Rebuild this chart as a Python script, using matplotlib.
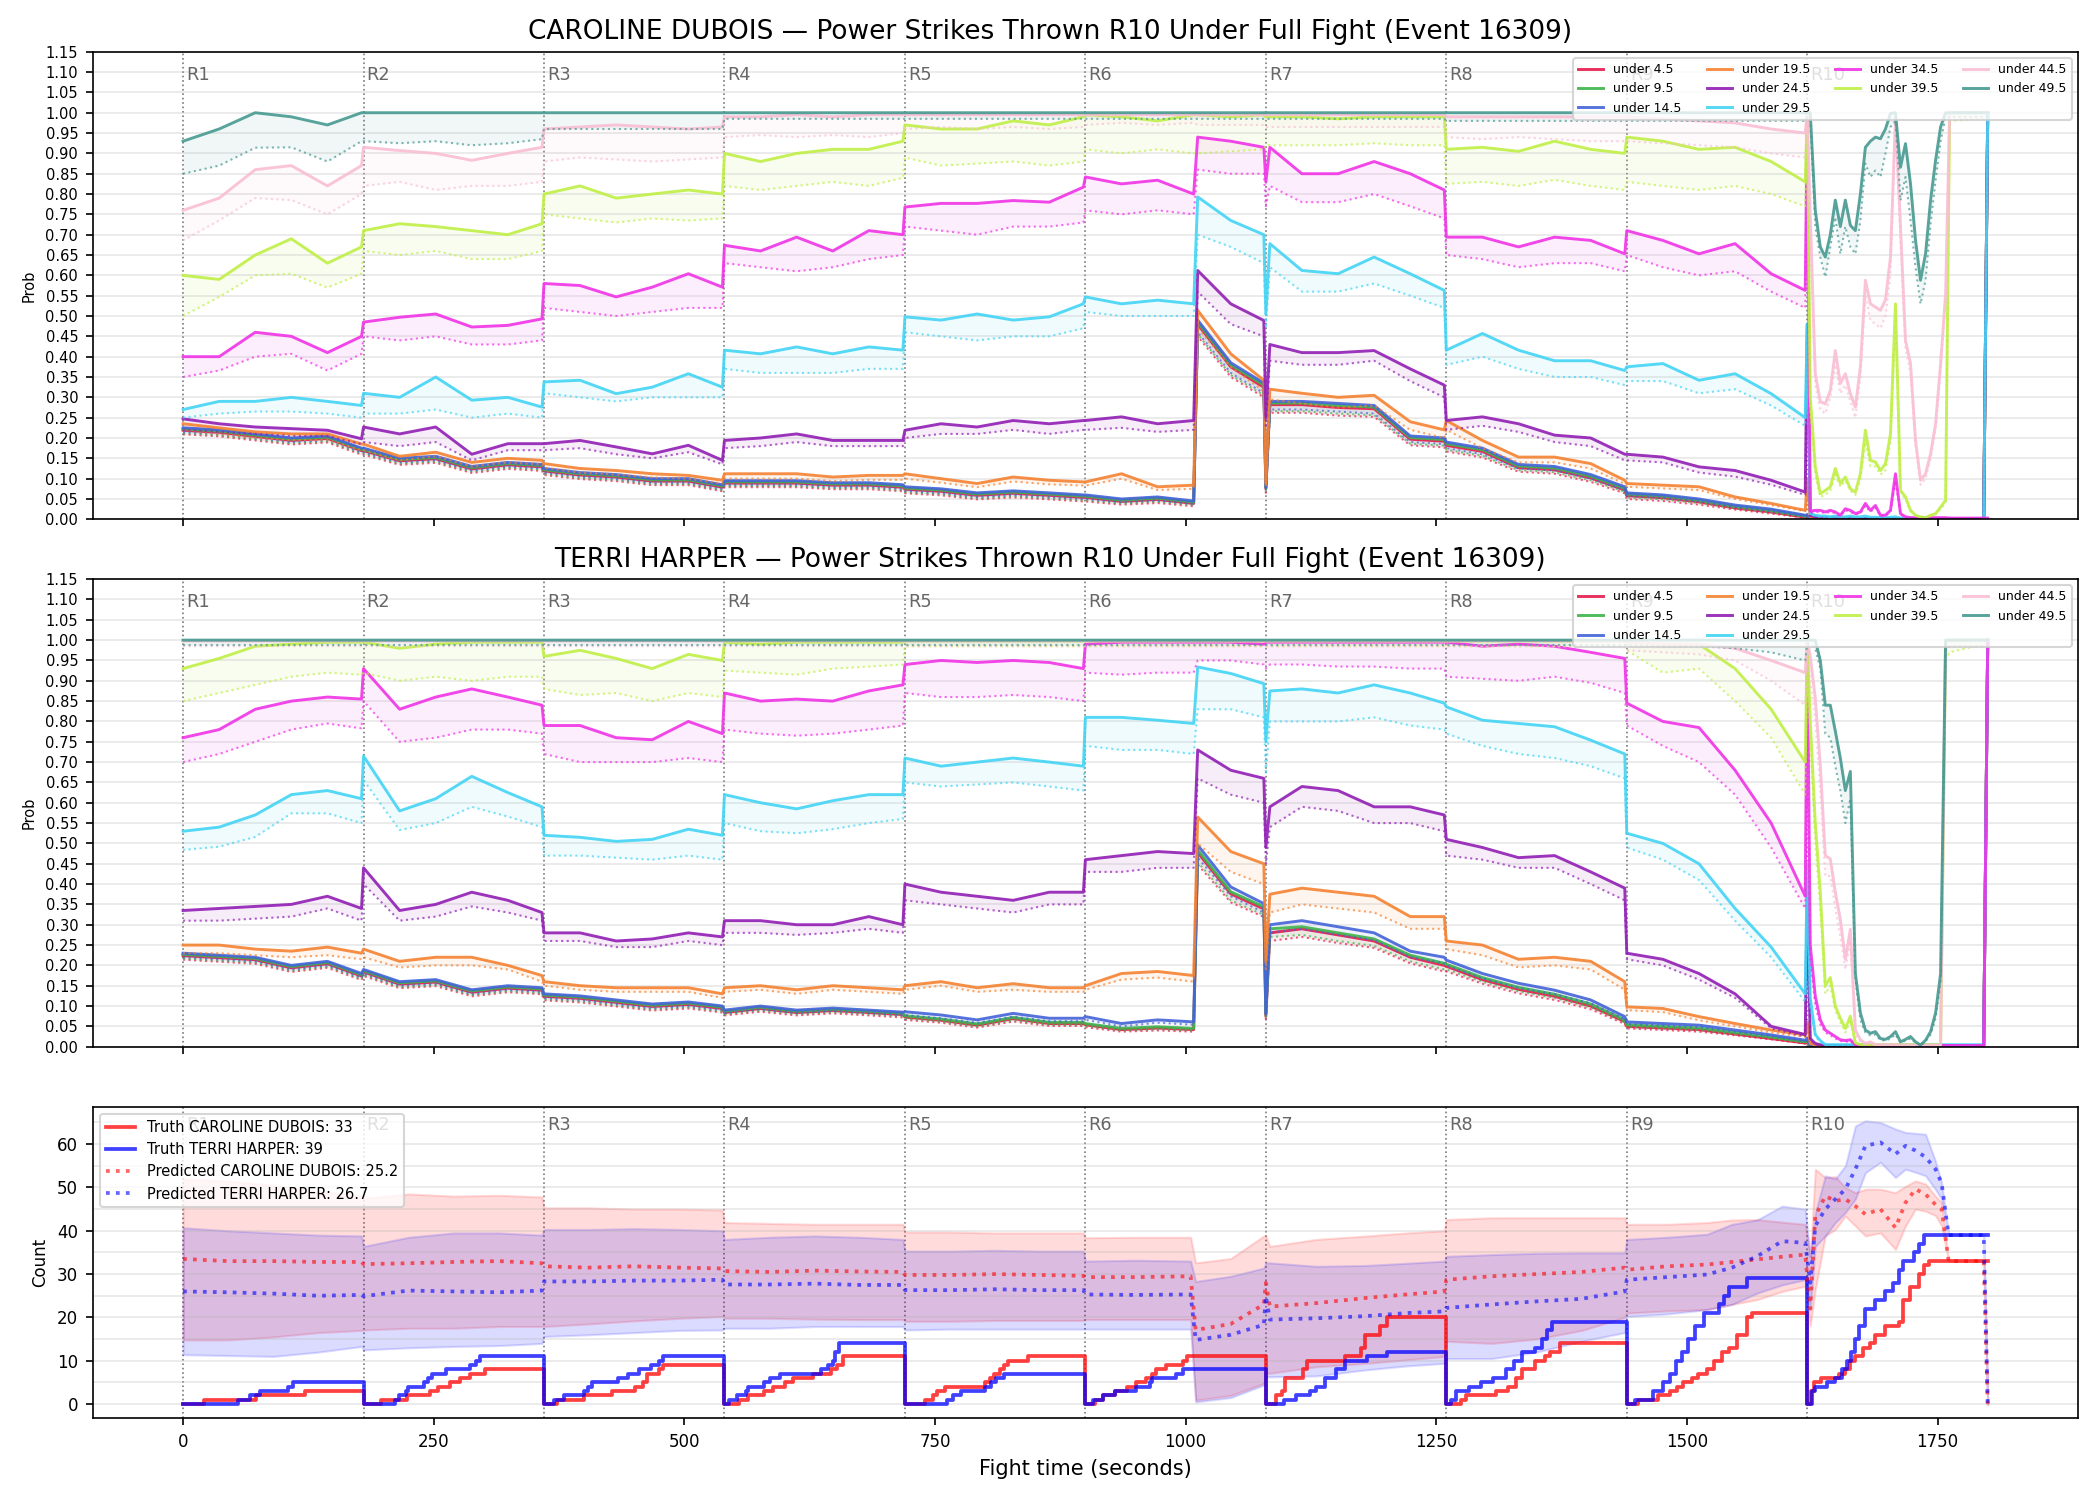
import numpy as np
import matplotlib
matplotlib.use("Agg")
import matplotlib.pyplot as plt
from matplotlib.ticker import FormatStrFormatter, MultipleLocator

FIGHTERS = ['CAROLINE DUBOIS', 'TERRI HARPER']
TITLE_TAIL = 'Power Strikes Thrown R10 Under Full Fight (Event 16309)'
ROUND_STARTS = [0, 180, 360, 540, 720, 900, 1080, 1260, 1440, 1620]
THRESHOLDS = ['under 4.5', 'under 9.5', 'under 14.5', 'under 19.5', 'under 24.5',
              'under 29.5', 'under 34.5', 'under 39.5', 'under 44.5', 'under 49.5']
COLORS = ['#e6194B', '#3cb44b', '#4363d8', '#f58231', '#911eb4',
          '#42d4f4', '#f032e6', '#bfef45', '#fabed4', '#469990']

# sample times (s) for the threshold panels
T = [0, 36, 72, 108, 144, 178,
     180, 216, 252, 288, 324, 358,
     360, 396, 432, 468, 504, 538,
     540, 576, 612, 648, 684, 718,
     720, 756, 792, 828, 864, 898,
     900, 936, 972, 1008, 1012, 1045, 1078,
     1080, 1084, 1116, 1152, 1188, 1224, 1258,
     1260, 1296, 1332, 1368, 1404, 1438,
     1440, 1476, 1512, 1548, 1584, 1618,
     1620, 1623, 1628, 1633, 1638, 1643, 1648, 1653, 1658, 1663, 1668, 1673, 1678,
     1683, 1688, 1693, 1698, 1703, 1708, 1713, 1718, 1723, 1728, 1733, 1738, 1743,
     1748, 1753, 1758, 1762, 1796, 1800]

# ---- CAROLINE DUBOIS: probability (%) solid line and lower dotted line ----
d_u4 = [21.9, 21.4, 20.4, 19.4, 19.9, 16.9,
        16.9, 14.4, 14.9, 12.4, 13.4, 12.9,
        11.9, 10.9, 10.4, 9.4, 9.4, 7.9,
        8.9, 8.9, 8.9, 8.4, 8.4, 7.9,
        7.4, 6.9, 5.9, 6.4, 5.9, 5.4,
        5.4, 4.4, 4.9, 3.9, 48, 37.5, 32.5,
        7.5, 28.2, 28.2, 27.5, 27.2, 19.7, 19.2,
        18.2, 16.7, 12.7, 12.2, 10.2, 7.2,
        5.8, 5.3, 4.3, 2.8, 1.8, 0.5,
        0.5, 0.1] + [0.05] * 29 + [100]
d_u4_lo = [20.9, 20.4, 19.4, 18.4, 18.9, 15.9,
           15.9, 13.4, 13.9, 11.4, 12.4, 11.9,
           10.9, 9.9, 9.4, 8.4, 8.4, 6.9,
           7.9, 7.9, 7.9, 7.4, 7.4, 6.9,
           6.4, 5.9, 4.9, 5.4, 4.9, 4.4,
           4.4, 3.6, 4.0, 3.2, 45, 35, 30,
           6.5, 26.2, 26.2, 25.5, 25.2, 18.2, 17.7,
           16.7, 15.2, 11.7, 11.2, 9.2, 6.4,
           5.0, 4.5, 3.6, 2.4, 1.4, 0.4,
           0.4, 0.05] + [0.02] * 29 + [100]
d_u9 = [22.2, 21.7, 20.7, 19.7, 20.2, 17.2,
        17.2, 14.7, 15.2, 12.7, 13.7, 13.2,
        12.2, 11.2, 10.7, 9.7, 9.7, 8.2,
        9.2, 9.2, 9.2, 8.7, 8.7, 8.2,
        7.7, 7.2, 6.2, 6.7, 6.2, 5.7,
        5.7, 4.7, 5.2, 4.2, 48.5, 38, 33,
        7.8, 28.6, 28.6, 28, 27.6, 20.1, 19.6,
        18.6, 17.1, 13.1, 12.6, 10.6, 7.6,
        6.2, 5.7, 4.7, 3.2, 2.2, 0.8,
        0.8, 0.2] + [0.1] * 29 + [100]
d_u9_lo = [21.2, 20.7, 19.7, 18.7, 19.2, 16.2,
           16.2, 13.7, 14.2, 11.7, 12.7, 12.2,
           11.2, 10.2, 9.7, 8.7, 8.7, 7.2,
           8.2, 8.2, 8.2, 7.7, 7.7, 7.2,
           6.7, 6.2, 5.2, 5.7, 5.2, 4.7,
           4.7, 3.9, 4.3, 3.5, 45.5, 35.5, 30.5,
           6.8, 26.6, 26.6, 26, 25.6, 18.6, 18.1,
           17.1, 15.6, 12.1, 11.6, 9.6, 6.8,
           5.4, 4.9, 4.0, 2.7, 1.7, 0.6,
           0.6, 0.1] + [0.05] * 29 + [100]
d_u14 = [22.5, 22, 21, 20, 20.5, 17.5,
         17.5, 15, 15.5, 13, 14, 13.5,
         12.5, 11.5, 11, 10, 10, 8.5,
         9.5, 9.5, 9.5, 9, 9, 8.5,
         8, 7.5, 6.5, 7, 6.5, 6,
         6, 5, 5.5, 4.5, 49, 38.5, 33.5,
         8, 29, 29, 28.5, 28, 20.5, 20,
         19, 17.5, 13.5, 13, 11, 8,
         6.5, 6, 5, 3.5, 2.5, 1,
         1, 0.3] + [0.2] * 29 + [100]
d_u14_lo = [21.5, 21, 20, 19, 19.5, 16.5,
            16.5, 14, 14.5, 12, 13, 12.5,
            11.5, 10.5, 10, 9, 9, 7.5,
            8.5, 8.5, 8.5, 8, 8, 7.5,
            7, 6.5, 5.5, 6, 5.5, 5,
            5, 4.2, 4.6, 3.8, 46, 36, 31,
            7, 27, 27, 26.5, 26, 19, 18.5,
            17.5, 16, 12.5, 12, 10, 7.2,
            5.8, 5.3, 4.4, 3, 2, 0.8,
            0.8, 0.2] + [0.1] * 29 + [100]
d_u19 = [23.5, 22.5, 21.5, 21, 21, 18.5,
         18.5, 15.5, 16.5, 14, 15, 14.5,
         13.7, 12.5, 12, 11.2, 10.8, 9.6,
         11.2, 11.2, 11.2, 10.4, 10.8, 10.8,
         11.2, 10, 8.8, 10.4, 9.6, 9.2,
         9.2, 11.2, 8, 8.4, 51.4, 40.7, 34.2,
         9, 32, 31, 30, 30.5, 24, 22,
         24.3, 19.4, 15.3, 15.3, 13.7, 9.6,
         8.8, 8.4, 8, 5.5, 3.9, 2.2,
         10, 0.6, 0.4, 0.3, 0.3] + [0.2] * 26 + [100]
d_u19_lo = [22, 21, 20, 19.5, 19.5, 17,
            17, 14.5, 15.5, 13, 14, 13.5,
            12.7, 11.5, 11, 10.3, 10, 8.8,
            10, 10, 10, 9.4, 9.7, 9.7,
            10, 9, 7.9, 9.3, 8.6, 8.3,
            8.3, 10, 7.2, 7.5, 47, 37.5, 31.5,
            8, 29.5, 28.5, 27.5, 28, 22, 20,
            22, 17.5, 14, 14, 12.5, 8.7,
            8, 7.6, 7.2, 5, 3.5, 2,
            9, 0.5, 0.3, 0.2, 0.2] + [0.1] * 26 + [100]
d_u24 = [24.7, 23.5, 22.7, 22.3, 21.9, 19.8,
         22.7, 21, 22.7, 16, 18.6, 18.6,
         18.6, 19.4, 17.8, 16.1, 18.2, 14.5,
         19.4, 20, 21, 19.4, 19.4, 19.4,
         21.9, 23.5, 22.7, 24.3, 23.5, 24.3,
         24.3, 25.2, 23.5, 24.3, 61.2, 53, 48.9,
         25, 43, 41, 41, 41.5, 37, 33,
         24.3, 25.2, 23.5, 20.7, 20, 16,
         16, 15.3, 12.9, 12, 9.6, 6.7,
         48, 1, 0.6, 0.5, 0.5, 0.4, 0.4, 0.4, 0.3, 0.3] + [0.2] * 21 + [100]
d_u24_lo = [22, 21.5, 21, 20.5, 20.5, 18.5,
            19, 18, 19, 14.5, 17, 17,
            17, 17.5, 16, 15, 16.5, 13.5,
            17.5, 18, 19, 18, 18, 18,
            20, 21, 21, 22, 21, 22,
            22, 22.5, 21.5, 22, 56, 48, 45,
            23, 39, 38, 38, 39, 34, 30,
            22, 23, 21.5, 19, 18, 14.5,
            14.5, 14, 11.5, 10.5, 8.5, 6,
            45, 0.8, 0.5, 0.4, 0.4, 0.3, 0.3, 0.3, 0.2, 0.2] + [0.1] * 21 + [100]
d_u29 = [27, 29, 29, 30, 29, 28,
         31, 30, 35, 29.3, 30, 27.6,
         33.8, 34.2, 30.9, 32.5, 35.8, 32.5,
         41.6, 40.7, 42.4, 40.7, 42.4, 41.6,
         49.8, 49, 50.5, 49, 49.8, 53,
         54.7, 53, 53.9, 53, 79.3, 73.5, 70,
         50.6, 67.8, 61.2, 60.4, 64.5, 60.4, 56.3,
         41.6, 45.7, 41.6, 39, 39, 36.6,
         37.5, 38.3, 34.2, 35.8, 30.9, 25,
         48, 1.4, 1, 0.8, 0.8, 0.6, 0.8, 0.6, 0.6, 0.8,
         0.6, 0.6, 0.8, 0.5, 0.5, 0.4, 0.4, 0.5, 0.6] + [0.3] * 3 + [0.2] * 9 + [100]
d_u29_lo = [25, 26, 26.5, 26.5, 26, 25,
            26, 26, 27, 25, 26, 25,
            31, 30, 29, 30, 30, 30,
            37, 36, 36, 36, 37, 37,
            46, 45, 44, 45, 45, 47,
            51, 50, 50, 50, 70, 67, 63,
            47, 62, 56, 56, 58, 55, 52,
            38, 40, 37, 35, 35, 33,
            34, 34, 31, 32, 28, 23,
            44, 1.2, 0.8, 0.6, 0.6, 0.5, 0.6, 0.5, 0.5, 0.6,
            0.5, 0.5, 0.6, 0.4, 0.4, 0.3, 0.3, 0.4, 0.5] + [0.2] * 3 + [0.1] * 9 + [100]
d_u34 = [40, 40, 46, 45, 41, 45,
         48.5, 49.7, 50.5, 47.3, 47.7, 49.3,
         58, 57.5, 54.7, 57.1, 60.4, 57.1,
         67.4, 66, 69.4, 66, 71, 70,
         76.8, 77.7, 77.7, 78.4, 78, 81.7,
         84.2, 82.5, 83.4, 80, 94, 93, 91.5,
         83, 91.5, 85, 85, 88, 85, 81,
         69.4, 69.4, 67, 69.4, 68.6, 65.3,
         71, 68.6, 65.3, 67.8, 60.4, 56.3,
         100, 2, 2.2, 2.2, 1.8, 2.2, 1.8, 1, 2.6, 2.2,
         1.4, 1.8, 3.9, 2.2, 3.4, 1, 1, 2.2, 11.2, 1.4,
         0.6] + [0.4] * 8 + [0.3] * 3
d_u34_lo = [35, 36.6, 40, 40.7, 36.6, 40.7,
            45, 44, 45, 43, 43, 44,
            52, 51, 50, 51, 52, 52,
            63, 62, 61, 62, 64, 65,
            72, 71, 70, 72, 72, 73,
            76, 75, 76, 75, 86, 85, 85,
            77, 82, 78, 78, 80, 77, 74,
            65, 64, 62, 63, 63, 61,
            65, 62, 60, 61, 56, 52,
            98, 1.5, 1.8, 1.8, 1.5, 1.8, 1.5, 0.8, 2.2, 1.8,
            1.2, 1.5, 3.3, 1.8, 2.9, 0.8, 0.8, 1.8, 9.5, 1.2,
            0.5] + [0.3] * 8 + [0.2] * 3
d_u39 = [60, 59, 65, 69, 63, 67,
         71, 72.7, 72, 71, 70, 72.7,
         80, 82, 79, 80, 81, 80,
         90, 88, 90, 91, 91, 93,
         97, 96, 96, 98, 97, 99,
         99.5, 99, 98, 99.5, 99.5, 99, 99.5,
         99, 99, 99, 98.5, 99, 99, 99,
         91, 91.5, 90.5, 93, 91, 90,
         94, 93, 91, 91.5, 88, 83,
         100, 30, 12.9, 6.3, 7.1, 8, 12.5, 8.8, 10.4, 7.5,
         6.7, 11.2, 21.9, 14.5, 14.1, 12, 13.7, 21, 53, 7.1,
         5.5, 2.2, 1, 0.6, 0.4, 1, 1.4, 3, 4.7, 100, 100, 100]
d_u39_lo = [50, 54.7, 60, 60.4, 57, 60.4,
            66, 65, 66, 64, 64, 66,
            75, 74, 73, 74, 73.5, 74,
            82, 81, 82, 83, 82, 84,
            89, 87, 87.5, 88, 87, 88,
            91, 90, 91, 90, 90, 90.5, 91,
            92, 92, 92, 92, 92.5, 92, 92,
            82.5, 83, 82, 83.5, 82, 81,
            83, 82, 81, 82, 80, 77,
            98, 27, 11, 5.5, 6, 7, 11, 8, 9.5, 7,
            6, 10, 19, 13, 13, 11, 12, 19, 50, 6.5,
            5, 2, 0.8, 0.5, 0.3, 0.8, 1.2, 2.5, 4, 98, 98.5, 98.5]
d_u44 = [76, 79, 86, 87, 82, 87,
         91.5, 90.7, 90, 88.3, 90, 91.5,
         96, 96.5, 97, 96.5, 96, 96.5,
         99, 99, 99.5, 99, 99.5, 99.5] + [99.5] * 20 + [
         99, 99, 99, 99, 99, 99,
         99, 98.5, 98, 97.5, 96, 95,
         100, 75, 35.8, 29, 28.4, 31.7, 41.5, 33.4, 35.8, 30.9,
         27.6, 37.5, 58.8, 53, 52.2, 51.4, 54, 64.5, 99, 72,
         44, 38.3, 19.4, 9.6, 11.2, 16.1, 23.5, 38.3, 55.5, 100, 100, 100]
d_u44_lo = [68.6, 73.5, 79, 78.5, 75, 80,
            82, 83, 81, 82, 82, 83,
            88, 89, 88.5, 88, 88.5, 89,
            94, 94.5, 94, 94.5, 94, 95,
            96, 96.5, 96, 96.5, 96, 96.5,
            97, 97.5, 97, 97.5, 97, 97, 97] + [96.5] * 7 + [
            94, 93.5, 94, 93.5, 93, 93,
            93, 92.5, 92, 91.5, 90, 89,
            98, 70, 33, 27, 26, 30, 38, 31, 33, 29,
            25, 35, 55, 49, 48, 47, 50, 60, 97, 68,
            42, 36, 18, 8.5, 10, 15, 22, 37, 54, 98.5, 98.5, 98.5]
d_u49 = [93, 96, 100, 99, 97, 100] + [100] * 50 + [
         100, 100, 76, 67, 64.5, 70, 78.5, 72, 78.5, 72.3,
         71, 80, 91.5, 93, 94, 93.6, 96, 99.8, 100, 86.6,
         92.4, 82.5, 68.6, 58.8, 65.3, 78.5, 88.3, 96.5, 100, 100, 100, 100]
d_u49_lo = [85, 87, 91.4, 91.5, 88, 93,
            93, 92.5, 93, 92, 92.5, 93.5] + [96] * 6 + [98.5] * 26 + [98] * 12 + [
            99, 98, 72, 64.5, 59.6, 67, 74.3, 65.3, 72, 67,
            65.3, 73.5, 87.5, 84.2, 85.8, 84.2, 90, 96.5, 98, 78.4,
            84.2, 73.5, 62, 53, 58.8, 72.7, 83.4, 93, 99, 99, 99, 99]

# ---- TERRI HARPER ----
h_u4 = [22.4, 21.9, 21.4, 19.4, 20.4, 17.4,
        18.4, 15.4, 15.9, 13.4, 14.4, 13.9,
        12.4, 11.9, 10.9, 9.9, 10.4, 9.4,
        8.4, 9.4, 8.4, 8.9, 8.4, 7.9,
        7.3, 6.5, 5.3, 6.9, 5.7, 5.7,
        5.4, 4.2, 4.6, 4.2, 47.8, 37.6, 33.9,
        7.5, 28, 29, 27.5, 26, 22, 20,
        19.8, 16.5, 14.1, 12.4, 10, 6.2,
        5, 4.6, 4.2, 3.1, 2, 0.9,
        1, 0.1] + [0.03] * 29 + [100]
h_u4_lo = [21.4, 20.9, 20.4, 18.4, 19.4, 16.4,
           17.4, 14.4, 14.9, 12.4, 13.4, 12.9,
           11.4, 10.9, 9.9, 8.9, 9.4, 8.4,
           7.7, 8.6, 7.7, 8.2, 7.7, 7.2,
           6.6, 5.9, 4.7, 6.2, 5.1, 5.1,
           4.8, 3.7, 4, 3.7, 44.8, 35.5, 31.9,
           6.8, 26, 27, 25.5, 24.3, 20.5, 18.5,
           18.5, 15.5, 13.1, 11.5, 9.2, 5.6,
           4.5, 4.1, 3.7, 2.8, 1.8, 0.8,
           0.9, 0.05] + [0.02] * 29 + [100]
h_u9 = [22.7, 22.2, 21.7, 19.7, 20.7, 17.7,
        18.7, 15.7, 16.2, 13.7, 14.7, 14.2,
        12.7, 12.2, 11.2, 10.2, 10.7, 9.7,
        8.7, 9.7, 8.7, 9.2, 8.7, 8.2,
        7.6, 6.8, 5.6, 7.2, 6, 6,
        5.7, 4.5, 4.9, 4.5, 48.4, 38.1, 34.4,
        8, 29, 29.5, 28, 26.5, 22.5, 20.5,
        20.3, 17, 14.6, 12.9, 10.5, 6.6,
        5.4, 5, 4.6, 3.5, 2.4, 1.2,
        1.5, 0.2] + [0.05] * 29 + [100]
h_u9_lo = [21.7, 21.2, 20.7, 18.7, 19.7, 16.7,
           17.7, 14.7, 15.2, 12.7, 13.7, 13.2,
           11.7, 11.2, 10.2, 9.2, 9.7, 8.7,
           8, 8.9, 8, 8.5, 8, 7.5,
           6.9, 6.2, 5, 6.5, 5.4, 5.4,
           5.1, 4, 4.3, 4, 45.4, 36, 32.4,
           7.3, 27, 27.5, 26, 24.8, 21, 19,
           19, 16, 13.6, 12, 9.7, 6,
           4.9, 4.5, 4.1, 3.1, 2.1, 1,
           1.3, 0.1] + [0.03] * 29 + [100]
h_u14 = [23, 22.5, 22, 20, 21, 18,
         19, 16, 16.5, 14, 15, 14.5,
         13, 12.5, 11.5, 10.5, 11, 10,
         9, 10, 9, 9.5, 9, 8.5,
         8.6, 7.8, 6.6, 8.2, 7, 7,
         7.4, 5.7, 6.6, 6.1, 49.6, 39.3, 35.2,
         8.2, 30, 31, 29.5, 28, 23.5, 22,
         21.3, 18, 15.6, 13.9, 11.5, 7.4,
         6.1, 5.7, 5.3, 4.1, 2.9, 1.6,
         2, 0.3] + [0.1] * 29 + [100]
h_u14_lo = [22, 21.5, 21, 19, 20, 17,
            18, 15, 15.5, 13, 14, 13.5,
            12, 11.5, 10.5, 9.5, 10, 9,
            8.3, 9.2, 8.3, 8.8, 8.3, 7.8,
            7.8, 7, 5.9, 7.4, 6.3, 6.3,
            6.6, 5, 5.9, 5.4, 46.5, 37, 33,
            7.5, 28, 29, 27.5, 26.2, 22, 20.5,
            20, 16.8, 14.5, 12.9, 10.7, 6.8,
            5.6, 5.2, 4.8, 3.7, 2.6, 1.4,
            1.8, 0.2] + [0.05] * 29 + [100]
h_u19 = [25, 25, 24, 23.5, 24.5, 23,
         24, 21, 22, 22, 20, 17.5,
         16, 15, 14.5, 14.5, 14.5, 13,
         14.5, 15, 14, 15, 14.5, 14,
         15, 16, 14.5, 15.5, 14.5, 14.5,
         15, 18, 18.5, 17.5, 56.5, 48, 45,
         21, 37.5, 39, 38, 37, 32, 32,
         26, 25, 21.5, 22, 21, 16,
         9.8, 9.4, 7.4, 5.7, 4.1, 2.9,
         6, 0.8, 0.4] + [0.2] * 28 + [100]
h_u19_lo = [23, 23, 22.5, 22, 22.5, 21.5,
            22, 19.5, 20, 20, 19, 16,
            15, 14, 13.5, 13.5, 13.5, 12,
            13.5, 14, 13, 14, 13.5, 13,
            14, 15, 13.5, 14, 13.5, 13.5,
            14, 16.5, 17, 16, 50, 43, 40,
            19, 33, 35, 34, 33, 29, 29,
            24, 22.5, 19.5, 20, 19, 14,
            9, 8.5, 6.5, 5, 3.5, 2.4,
            5, 0.6, 0.3] + [0.1] * 28 + [100]
h_u24 = [33.5, 34, 34.5, 35, 37, 34,
         44, 33.5, 35, 38, 36, 33,
         28, 28, 26, 26.5, 28, 27,
         31, 31, 30, 30, 32, 30,
         40, 38, 37, 36, 38, 38,
         46, 47, 48, 47.5, 73, 68, 66,
         49, 59, 64, 63, 59, 59, 57,
         51, 49, 46.5, 47, 43, 39,
         23, 21.5, 18, 13, 5, 3,
         38, 2, 0.8, 0.5] + [0.3] * 27 + [100]
h_u24_lo = [31, 31, 31.5, 32, 34, 31,
            40, 31, 32, 34.5, 33, 31,
            26, 26, 24.5, 24.5, 26, 25,
            28, 28, 27.5, 28, 29, 28,
            36, 35, 34, 33, 35, 35,
            43, 43, 44, 44, 66, 62, 60,
            45, 54, 59, 58, 55, 55, 53,
            47, 46, 44, 44, 40, 36,
            21.5, 20, 16.5, 12, 4.5, 2.5,
            35, 1.5, 0.6, 0.4] + [0.2] * 27 + [100]
h_u29 = [53, 54, 57, 62, 63, 61,
         71.5, 58, 61, 66.5, 62.5, 59,
         52, 51.5, 50.5, 51, 53.5, 52,
         62, 60, 58.5, 60.5, 62, 62,
         71, 69, 70, 71, 70, 69,
         81, 81, 80.3, 79.5, 93.4, 91.8, 89.3,
         75, 87.5, 88, 87, 89, 87, 84.5,
         83.6, 80.3, 79.5, 78.7, 75.4, 72,
         52.5, 50, 45, 34, 24.5, 13,
         45, 12, 3, 1.5] + [0.5] * 27 + [100]
h_u29_lo = [48.4, 49.2, 51.6, 57.4, 57.4, 55,
            65.6, 53.3, 55, 59, 56.6, 54,
            47, 47, 46.5, 46, 47, 46,
            55, 53, 52.5, 53.5, 55, 56,
            65, 64, 64.5, 65, 64, 63,
            74, 73, 73, 72, 83, 83, 81,
            67, 80, 80, 80, 81, 79, 78,
            77, 74, 72, 71, 69, 66,
            49, 46, 41, 31, 22, 11,
            42, 10, 2.5, 1.2] + [0.3] * 27 + [100]
h_u34 = [76, 78, 83, 85, 86, 85.5,
         93, 83, 86, 88, 86, 84,
         79, 79, 76, 75.5, 80, 77,
         87, 85, 85.5, 85, 87.5, 89,
         94, 95, 94.5, 95, 94.5, 93,
         99, 99.5, 99.5, 99.5, 99.5, 99.5, 99] + [99.5] * 7 + [
         99.5, 98.5, 99, 98.5, 97, 95.5,
         84.5, 80, 78.5, 68, 55, 37,
         100, 25, 12.4, 6.6, 4.1, 3.3, 2.5, 1.7, 1.5, 1.7, 0.4] + [0.3] * 20 + [100]
h_u34_lo = [70, 72, 75, 78, 79.5, 78.3,
            85, 75, 76, 78, 78, 77,
            72, 70, 70, 70, 71, 70,
            78, 77, 76.5, 77, 78, 79,
            87, 86, 86, 86.5, 86, 85,
            92, 91.5, 92, 92, 95, 95, 94,
            93, 94, 94, 93.5, 93.5, 93, 93,
            91, 90.5, 90, 91, 89.5, 87,
            79, 74, 70, 62, 49, 34,
            98, 22, 10, 5.5, 3.5, 2.8, 2, 1.4, 1.2, 1.4, 0.3] + [0.2] * 20 + [100]
h_u39 = [93, 95.5, 98.5, 99, 99.5, 99.5,
         99.5, 98, 99, 99.5, 99.5, 99.5,
         96, 97.5, 95.5, 93, 96.5, 95,
         99.5, 99, 99.5, 99.5, 99.5, 99.5] + [99.8] * 26 + [
         99.5, 99, 99, 93, 83, 70,
         100, 80, 55, 38, 15, 17, 10, 7, 4.5, 7.5, 1] + [0.5] * 17 + [100] * 4
h_u39_lo = [85, 87, 89, 91, 92, 91.5,
            92, 90, 91, 90, 91, 91,
            88, 86.5, 87, 85, 87, 86,
            92.5, 92, 91.5, 93, 93.5, 94] + [98.5] * 26 + [
            97.5, 92, 93, 85, 76, 62,
            98, 75, 50, 34, 13, 15, 9, 6, 3.5, 6.5, 0.8] + [0.4] * 17 + [95, 97, 99, 99]
h_u44 = [99.8] * 50 + [
         99.5, 99, 99, 98, 95, 92,
         100, 96, 85.8, 69.3, 47, 46.2, 38, 31.3, 21.5, 28.9,
         4.1, 1.7, 0.8, 1.2] + [0.5] * 5 + [0.4] * 9 + [100] * 4
h_u44_lo = [98.5] * 50 + [
            97.5, 97, 96.5, 95, 90, 84,
            98, 90, 80, 63, 42, 42, 34, 27, 19, 26,
            3, 1.2, 0.5, 0.8] + [0.3] * 14 + [98, 98.5, 98.5, 98.5]
h_u49 = [100] * 56 + [
         100, 100, 100, 95, 84, 84, 77.6, 71, 63, 67.7,
         18, 8.3, 4.1, 3.3, 3.7, 2, 1.8, 2.5, 3.7, 1.2,
         1.8, 2.5, 1.2, 0.4, 1.6, 3.7, 8.3, 18, 100, 100, 100, 100]
h_u49_lo = [98.8] * 50 + [98.8, 98.5, 98.5, 98, 97, 95] + [
            99, 99, 98, 93, 77, 76, 69, 63, 55, 61,
            16.5, 6.6, 3.5, 2.8, 3, 1.6, 1.5, 2, 3, 1,
            1.5, 2, 1, 0.3, 1.3, 3, 7, 16, 98, 98.5, 98.5, 98.5]

# ---- count panel ----
BT = [0, 45, 90, 135, 178, 180, 225, 270, 315, 358, 360, 405, 450, 495, 538,
      540, 585, 630, 675, 718, 720, 765, 810, 855, 898,
      900, 950, 1005, 1010, 1045, 1078,
      1080, 1084, 1130, 1180, 1220, 1258,
      1260, 1305, 1350, 1395, 1438,
      1440, 1480, 1520, 1545, 1570, 1595, 1618,
      1623, 1628, 1638, 1648, 1658, 1668, 1678, 1693, 1708, 1718, 1728, 1738,
      1748, 1754, 1761, 1796, 1800]
red_pred = [33.5, 33, 33, 32.8, 32.8, 32.3, 32.5, 32.8, 33, 32.5, 31.8, 31.5, 31.8, 31.5, 31.3,
            30.7, 30.5, 30.8, 30.6, 30.5, 29.8, 29.8, 30, 29.8, 29.6,
            29.3, 29.3, 29.5, 17.1, 18.5, 23,
            28, 22.5, 23.3, 24.5, 25.3, 26,
            28.7, 29.5, 30, 30.5, 31.5,
            31, 31.8, 32.2, 32.8, 33.4, 34, 34.5,
            22, 43.4, 48, 46.9, 47.3, 45.7, 43.8, 45, 40.7, 46.5, 49.6, 48.4,
            46, 45, 33, 33, 0]
red_hi = [52, 51.5, 50.5, 49, 48.2, 47.5, 48.5, 48, 48.2, 47.8, 45.3, 45.3, 45, 45, 44.8,
          41.9, 41.7, 41.5, 41.5, 41.5, 39.7, 39.7, 39.5, 39.5, 39.5,
          38.4, 38.5, 38.5, 32.6, 33.6, 38.8,
          38.8, 36.4, 38, 38.8, 39.5, 40,
          42.6, 43, 43, 43, 43,
          41.5, 41.5, 41.9, 42.5, 42.6, 42, 41.5,
          34, 54.2, 52.3, 52.5, 50, 48.8, 49.6, 49.6, 48.8, 50.3, 51.5, 50.8,
          48, 46.5, 33, 33, 0]
red_lo = [14.8, 14.8, 15.5, 16.5, 17, 17.1, 17.5, 17.5, 17.9, 17.9, 17.9, 18.5, 19.2, 19.8, 20.2,
          19.8, 19.8, 19.6, 19.5, 19.5, 19.1, 19.1, 19.3, 19.3, 19.3,
          19.5, 19.5, 19.5, 0.9, 2, 4.8,
          7.1, 7.1, 8.6, 9.4, 10.2, 11,
          14.5, 14, 15, 17, 20,
          21, 21.5, 21.8, 23, 24.1, 26, 27.2,
          18, 26.4, 38.8, 40.3, 43.4, 41.1, 38.8, 39.5, 35.7, 41.1, 45, 44.5,
          43.5, 41.1, 33, 33, 0]
blue_pred = [26, 25.8, 25.5, 25, 25.2, 24.9, 26.2, 26, 25.8, 26.2, 28.3, 28.3, 28.5, 28.5, 28.7,
             27.6, 27.6, 27.8, 27.5, 27.5, 26.3, 26.3, 26.5, 26.3, 26.3,
             25.3, 25.2, 25.3, 14.8, 16, 18.3,
             24.9, 19.5, 19.8, 20.3, 21, 21.4,
             22.2, 23, 23.7, 24.3, 26,
             28.7, 29.3, 29.9, 31.5, 34.1, 37.6, 37.2,
             28, 41.1, 45, 47.3, 49.6, 54.2, 59.6, 60.4, 57.7, 59.6, 58.5, 57,
             54.2, 51, 39, 39, 0]
blue_hi = [40.7, 40, 39.5, 39, 38.8, 36.4, 38.5, 39.5, 39.5, 39, 40.3, 40.3, 40.5, 40.3, 40,
           38, 38.5, 38.8, 38.5, 38, 35.3, 35.3, 35.5, 35.3, 35.3,
           33, 33.2, 33, 28.3, 29.5, 31.4,
           32.6, 32.6, 31.8, 32, 32.5, 33,
           34.1, 34.5, 34.8, 34.9, 34.9,
           38, 38.5, 39.2, 41.5, 42.5, 45.7, 45,
           34, 44, 52.7, 52, 55, 64.2, 65.4, 65, 63.5, 62.7, 62.5, 62.3,
           56, 51.1, 39, 39, 0]
blue_lo = [11.4, 11.2, 11, 12, 13.3, 12.5, 13, 13.3, 13.5, 14, 15.6, 16, 16.5, 17, 17.1,
           17.5, 17.5, 17.9, 17.9, 17.9, 17.1, 17.3, 17.3, 17.3, 17.3,
           17.3, 17.3, 17.3, 0.5, 1.5, 4.4,
           6.3, 6.3, 6.5, 7.9, 8.8, 9.4,
           10.5, 10.5, 12, 14.5, 16.5,
           20.2, 20.8, 21.8, 23, 25.6, 27.5, 28.7,
           22, 36.4, 38.8, 41.9, 44.2, 47.3, 53.4, 55.8, 52.3, 54.2, 53.5, 52.7,
           49.5, 47.3, 39, 39, 0]

# cumulative landed counts within each round (step changes)
red_truth_t = [0, 21, 73, 122,
               180, 197, 223, 246, 254, 266, 276, 286, 301,
               360, 373, 400, 428, 451, 459, 463, 475, 479,
               540, 555, 563, 579, 588, 600, 608, 628, 646, 652, 658,
               720, 740, 748, 752, 760, 800, 805, 809, 815, 819, 823, 843,
               900, 910, 918, 930, 942, 950, 960, 966, 970, 980, 997, 1001,
               1080, 1090, 1096, 1099, 1117, 1121, 1159, 1175, 1179, 1194, 1201,
               1260, 1275, 1280, 1310, 1322, 1330, 1335, 1348, 1358, 1363, 1373,
               1440, 1451, 1471, 1483, 1490, 1496, 1505, 1511, 1520, 1527, 1535, 1542, 1550, 1560, 1565,
               1620, 1624, 1627, 1634, 1652, 1658, 1663, 1668, 1676, 1683, 1688, 1698, 1712, 1716,
               1722, 1731, 1736, 1741, 1800]
red_truth_c = [0, 1, 2, 3,
               0, 1, 2, 3, 4, 5, 6, 7, 8,
               0, 1, 2, 3, 4, 5, 7, 8, 9,
               0, 1, 2, 3, 4, 5, 6, 7, 8, 9, 11,
               0, 1, 2, 3, 4, 5, 6, 7, 8, 9, 10, 11,
               0, 1, 2, 3, 4, 5, 6, 7, 8, 9, 10, 11,
               0, 2, 3, 6, 8, 10, 11, 13, 16, 18, 20,
               0, 1, 2, 3, 4, 6, 8, 10, 11, 12, 14,
               0, 1, 2, 3, 4, 5, 6, 7, 8, 10, 12, 13, 16, 20, 21,
               0, 3, 5, 6, 7, 8, 10, 11, 13, 14, 16, 18, 19, 24,
               27, 30, 32, 33, 33]
blue_truth_t = [0, 55, 67, 77, 105, 110,
                180, 211, 215, 222, 224, 240, 244, 248, 262, 286, 292, 296,
                360, 370, 380, 400, 404, 408, 434, 444, 455, 467, 475, 479,
                540, 545, 553, 561, 563, 579, 585, 595, 636, 643, 648, 650, 654,
                720, 762, 768, 776, 800, 806, 811, 819,
                900, 908, 918, 930, 950, 964, 966, 990, 997,
                1080, 1098, 1110, 1124, 1130, 1139, 1150, 1159, 1181, 1201,
                1260, 1265, 1270, 1283, 1295, 1307, 1320, 1328, 1335, 1348, 1355, 1360, 1365,
                1440, 1448, 1466, 1476, 1483, 1489, 1495, 1501, 1508, 1517, 1532, 1537, 1542, 1560,
                1620, 1625, 1628, 1640, 1648, 1655, 1660, 1664, 1668, 1672, 1678, 1688, 1698, 1706,
                1712, 1716, 1726, 1731, 1736, 1800]
blue_truth_c = [0, 1, 2, 3, 4, 5,
                0, 1, 2, 3, 4, 5, 6, 7, 8, 9, 10, 11,
                0, 1, 2, 3, 4, 5, 6, 7, 8, 9, 10, 11,
                0, 1, 2, 3, 4, 5, 6, 7, 8, 9, 10, 12, 14,
                0, 1, 2, 3, 4, 5, 6, 7,
                0, 1, 2, 3, 4, 5, 6, 7, 8,
                0, 1, 2, 3, 4, 6, 8, 10, 11, 12,
                0, 1, 3, 4, 5, 6, 8, 10, 12, 13, 15, 17, 19,
                0, 1, 3, 5, 7, 10, 12, 15, 18, 21, 23, 25, 27, 29,
                0, 3, 4, 5, 6, 8, 10, 12, 15, 18, 22, 24, 26, 28,
                31, 33, 35, 37, 39, 39]

TRUTH_TOTALS = [33, 39]
PRED_TOTALS = [25.2, 26.7]

dubois = [d_u4, d_u9, d_u14, d_u19, d_u24, d_u29, d_u34, d_u39, d_u44, d_u49]
dubois_lo = [d_u4_lo, d_u9_lo, d_u14_lo, d_u19_lo, d_u24_lo, d_u29_lo, d_u34_lo, d_u39_lo, d_u44_lo, d_u49_lo]
harper = [h_u4, h_u9, h_u14, h_u19, h_u24, h_u29, h_u34, h_u39, h_u44, h_u49]
harper_lo = [h_u4_lo, h_u9_lo, h_u14_lo, h_u19_lo, h_u24_lo, h_u29_lo, h_u34_lo, h_u39_lo, h_u44_lo, h_u49_lo]

for name, group in [('dubois', dubois), ('dubois_lo', dubois_lo), ('harper', harper), ('harper_lo', harper_lo)]:
    for i, s in enumerate(group):
        assert len(s) == len(T), '{} {} has {} points, expected {}'.format(name, THRESHOLDS[i], len(s), len(T))
for s in [red_pred, red_hi, red_lo, blue_pred, blue_hi, blue_lo]:
    assert len(s) == len(BT), len(s)
assert len(red_truth_t) == len(red_truth_c) and len(blue_truth_t) == len(blue_truth_c)


def mark_rounds(ax):
    for i, start in enumerate(ROUND_STARTS):
        ax.axvline(start, color='0.35', ls=':', lw=0.8, alpha=0.8, zorder=0.5)
        ax.text(start + 3, 0.97, 'R{}'.format(i + 1), transform=ax.get_xaxis_transform(),
                fontsize=8.5, color='0.4', va='top', ha='left')


def plot_thresholds(ax, fighter, solids, lowers):
    for label, color, p, q in zip(THRESHOLDS, COLORS, solids, lowers):
        p = np.array(p) / 100.0
        q = np.array(q) / 100.0
        ax.fill_between(T, q, p, color=color, alpha=0.08, linewidth=0)
        ax.plot(T, q, color=color, ls=':', lw=1.0, alpha=0.7)
        ax.plot(T, p, color=color, lw=1.4, alpha=0.9, label=label)
    mark_rounds(ax)
    ax.set_ylim(0, 1.15)
    ax.set_yticks(np.arange(0, 1.151, 0.05))
    ax.yaxis.set_major_formatter(FormatStrFormatter('%.2f'))
    ax.tick_params(axis='y', labelsize=7)
    ax.grid(True, axis='y', alpha=0.3)
    ax.set_ylabel('Prob', fontsize=7)
    # title sits on the figure centre, not the axes centre
    ax.set_title('{} \u2014 {}'.format(fighter, TITLE_TAIL), fontsize=12.7, x=0.482)
    ax.legend(loc='upper right', ncol=4, fontsize=6)


fig, axes = plt.subplots(3, 1, figsize=(14, 10), sharex=True,
                         gridspec_kw={'height_ratios': [3, 3, 2]})
fig.subplots_adjust(left=0.0442, right=0.9895, top=0.9655, bottom=0.0545, hspace=0.144)

plot_thresholds(axes[0], FIGHTERS[0], dubois, dubois_lo)
plot_thresholds(axes[1], FIGHTERS[1], harper, harper_lo)

ax = axes[2]
ax.fill_between(BT, red_lo, red_hi, color='red', alpha=0.14)
ax.fill_between(BT, blue_lo, blue_hi, color='blue', alpha=0.14)
ax.plot(red_truth_t, red_truth_c, color='red', lw=1.8, alpha=0.75, drawstyle='steps-post',
        label='Truth {}: {}'.format(FIGHTERS[0], TRUTH_TOTALS[0]))
ax.plot(blue_truth_t, blue_truth_c, color='blue', lw=1.8, alpha=0.75, drawstyle='steps-post',
        label='Truth {}: {}'.format(FIGHTERS[1], TRUTH_TOTALS[1]))
ax.plot(BT, red_pred, color='red', ls=':', lw=1.8, alpha=0.6,
        label='Predicted {}: {}'.format(FIGHTERS[0], PRED_TOTALS[0]))
ax.plot(BT, blue_pred, color='blue', ls=':', lw=1.8, alpha=0.6,
        label='Predicted {}: {}'.format(FIGHTERS[1], PRED_TOTALS[1]))
mark_rounds(ax)
ax.yaxis.set_major_locator(MultipleLocator(10))
ax.yaxis.set_minor_locator(MultipleLocator(5))
ax.tick_params(axis='y', which='minor', length=0)
ax.tick_params(labelsize=8)
ax.grid(True, axis='y', which='both', alpha=0.3)
ax.set_ylabel('Count', fontsize=8)
ax.set_xlabel('Fight time (seconds)', fontsize=10)
ax.legend(loc='upper left', fontsize=7)

fig.savefig('out.png', dpi=150)
